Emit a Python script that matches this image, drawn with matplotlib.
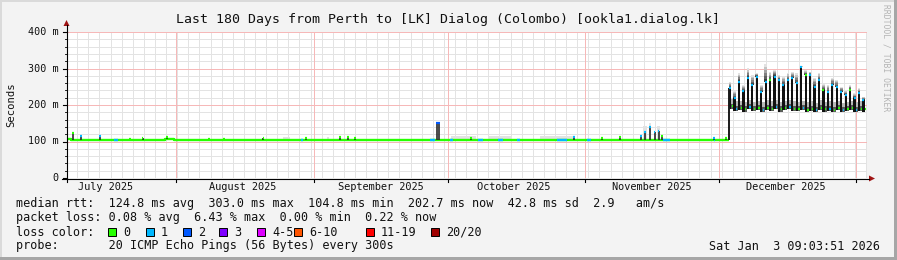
import matplotlib
matplotlib.use('Agg')
import matplotlib.pyplot as plt
from matplotlib.lines import Line2D
from matplotlib.patches import Rectangle, Polygon
from datetime import datetime, timedelta

# ---------------- data ----------------
title = "Last 180 Days from Perth to [LK] Dialog (Colombo) [ookla1.dialog.lk]"
end_time = datetime(2026, 1, 3, 9, 3, 51)
span_days = 180
y_ticks = [0, 100, 200, 300, 400]
y_tick_labels = ["0", "100 m", "200 m", "300 m", "400 m"]
month_labels = ["July 2025", "August 2025", "September 2025", "October 2025",
                "November 2025", "December 2025"]

# flat period: daily median rtt (ms), days 0..149
flat_vals = [106, 105, 105, 105, 105, 105, 105, 105, 105, 105,
             105, 105, 105, 105, 105, 105, 105, 105, 105, 105,
             105, 105, 106, 106, 105, 105, 105, 105, 105, 105,
             105, 105, 105, 105, 105, 105, 105, 105, 105, 105,
             105, 105, 105, 105, 105, 105, 105, 105, 105, 105,
             105, 105, 105, 105, 105, 105, 105, 105, 105, 105,
             105, 105, 105, 105, 105, 105, 105, 105, 105, 105,
             105, 105, 105, 105, 105, 105, 105, 105, 105, 105,
             105, 105, 105, 105, 105, 105, 105, 105, 105, 105,
             105, 105, 105, 105, 105, 105, 105, 105, 105, 105,
             105, 105, 105, 105, 105, 105, 105, 105, 105, 105,
             105, 105, 105, 105, 105, 105, 105, 105, 105, 105,
             105, 105, 105, 105, 105, 105, 105, 105, 105, 105,
             105, 105, 105, 105, 105, 105, 105, 105, 105, 105,
             105, 105, 105, 105, 105, 105, 105, 105, 105, 105]
# spans with 1 lost ping (start day, end day)
loss1_spans = [(10.6, 11.5), (52.6, 53.1), (81.7, 82.8), (86.2, 86.9),
               (92.5, 93.6), (97.0, 98.1), (101.3, 101.9), (110.3, 112.5),
               (117.0, 118.0), (134.1, 135.7), (145.5, 145.9)]
# short spikes: day, top value (ms), cap loss class
spike_days = [1.3, 3.2, 7.4, 14.2, 17.0, 22.5, 32.0, 35.3, 44.2, 53.8, 61.5,
              63.2, 64.8, 83.3, 83.7, 90.9, 114.1, 120.4, 124.4, 129.2, 130.0,
              131.2, 132.2, 133.1, 133.9, 145.6, 148.3]
spike_tops = [122, 115, 116, 108, 109, 111, 108, 108, 109, 110, 111,
              112, 110, 150, 150, 110, 112, 110, 113, 116, 127,
              140, 127, 130, 115, 110, 110]
spike_loss = [0, 1, 1, 0, 0, 0, 0, 0, 0, 0, 0,
              0, 0, 2, 2, 0, 1, 0, 0, 1, 1,
              1, 1, 1, 0, 1, 0]
# light smoke patches: start day, end day, top (ms)
smoke_start = [48.6, 58.5, 86.5, 95.0, 106.4, 129.6, 131.0, 132.7]
smoke_end = [50.2, 59.0, 92.0, 100.0, 114.0, 130.4, 131.5, 133.5]
smoke_top = [112, 112, 116, 115, 114, 142, 150, 143]

# December period: one swing per day
dec_start_day = 149.2
dec_peak = [246, 219, 264, 237, 274, 255, 278, 236, 264, 268, 278, 268, 255, 268,
            274, 259, 303, 282, 282, 250, 268, 241, 236, 255, 250, 236, 227, 241,
            219, 233, 214]
dec_smoke = [262, 240, 287, 255, 300, 282, 287, 255, 312, 291, 296, 282, 278, 287,
             291, 287, 306, 296, 291, 274, 287, 259, 255, 274, 268, 250, 241, 255,
             233, 246, 222]
dec_low = [196, 190, 192, 188, 194, 189, 192, 187, 193, 190, 195, 188, 191, 194,
           190, 189, 192, 187, 190, 186, 193, 188, 190, 187, 192, 186, 189, 191,
           187, 190, 188]
dec_peak_loss = [1, 1, 1, 1, 1, 1, 1, 1, 1, 0, 1, 1, 1, 1, 1, 1, 1, 0, 1, 1, 1,
                 0, 1, 1, 1, 1, 1, 0, 1, 1, 1]

# legend
median_stats = ["124.8", "303.0", "104.8", "202.7", "42.8", "2.9"]
loss_stats = ["0.08", "6.43", "0.00", "0.22"]
loss_labels = ["0", "1", "2", "3", "4-5", "6-10", "11-19", "20/20"]
loss_colors = ["#26ff00", "#00b8ff", "#0059ff", "#7e00ff", "#dd00ff",
               "#ff5500", "#ff0000", "#a00000"]
probe_text = "20 ICMP Echo Pings (56 Bytes) every 300s"
stamp_text = "Sat Jan  3 09:03:51 2026"

# ---------------- layout ----------------
W, H = 897, 260
PL, PR, PT, PB = 67, 867, 32, 178
MONO = "DejaVu Sans Mono"

fig = plt.figure(figsize=(W / 100, H / 100), dpi=100, facecolor="#F3F3F3")


def fx(x):
    return x / W


def fy(y):
    return 1 - y / H


ax = fig.add_axes([fx(PL), fy(PB), (PR - PL) / W, (PB - PT) / H])
ax.set_facecolor("white")
ax.set_xlim(0, span_days)
ax.set_ylim(0, 400)
for s in ax.spines.values():
    s.set_visible(False)
ax.set_xticks([])
ax.set_yticks([])

start_time = end_time - timedelta(days=span_days)


def to_day(dt):
    return (dt - start_time).total_seconds() / 86400.0


month_starts = [to_day(datetime(2025, m, 1)) for m in (8, 9, 10, 11, 12)] + \
    [to_day(datetime(2026, 1, 1))]
month_mids = [to_day(datetime(2025, m, 16)) for m in (7, 8, 9, 10, 11, 12)]

grid_lw = 0.72
minor_col = "#e3e3e3"
major_col = "#f6b8b8"
# minor grid
minor_x = []
d = 2.3
while d < span_days:
    minor_x.append(d)
    d += 2.5
for d in minor_x:
    ax.axvline(d, color=minor_col, lw=grid_lw, zorder=0)
for v in range(20, 400, 20):
    if v % 100:
        ax.axhline(v, color=minor_col, lw=grid_lw, zorder=0)
# major grid
for d in month_starts:
    ax.axvline(d, color=major_col, lw=grid_lw, zorder=0.5)
for v in y_ticks[1:]:
    ax.axhline(v, color=major_col, lw=grid_lw, zorder=0.5)

# ---------------- data drawing ----------------
# light smoke in flat period
for s, e, t in zip(smoke_start, smoke_end, smoke_top):
    ax.fill_between([s, e], 104, t, color="#e2e2e2", lw=0, zorder=1)

# flat median line
flat_days = list(range(len(flat_vals)))
ax.plot(flat_days + [dec_start_day - 0.2], flat_vals + [flat_vals[-1]],
        color=loss_colors[0], lw=1.7, drawstyle="steps-post",
        solid_capstyle="butt", zorder=3)
for s, e in loss1_spans:
    v = flat_vals[int(s)]
    ax.plot([s, e], [v, v], color=loss_colors[1], lw=1.7,
            solid_capstyle="butt", zorder=3.5)

# spikes
for dd, top, lc in zip(spike_days, spike_tops, spike_loss):
    base = flat_vals[int(dd)]
    ax.vlines(dd, base, top, color="#2a2a2a", lw=1.2, zorder=4)
    ax.plot([dd - 0.2, dd + 0.2], [top, top], color=loss_colors[lc], lw=1.6,
            solid_capstyle="butt", zorder=4.5)

# jump to December level
ax.vlines(dec_start_day - 0.2, flat_vals[-1], dec_peak[0], color="#1a1a1a",
          lw=1.4, zorder=4)

# December smoke and median
n = len(dec_peak)
dec_x = [dec_start_day + i for i in range(n)]
grad_cols = ["#3c3c3c", "#5e5e5e", "#808080", "#a2a2a2", "#c4c4c4", "#e2e2e2"]
for x, p, st in zip(dec_x, dec_peak, dec_smoke):
    step = (st - p) / len(grad_cols)
    for k, c in enumerate(grad_cols):
        ax.bar(x, step, bottom=p + k * step, width=0.6, color=c, lw=0,
               zorder=2)
# smoke around the low part between swings
for i in range(n - 1):
    ax.bar(dec_x[i] + 0.5, 12, bottom=dec_low[i] + 8, width=0.6,
           color="#b8b8b8", lw=0, zorder=1.5)
    ax.bar(dec_x[i] + 0.5, 14, bottom=dec_low[i] - 6, width=0.6,
           color="#5a5a5a", lw=0, zorder=1.6)
ax.bar(dec_x, [p - l + 6 for p, l in zip(dec_peak, dec_low)],
       bottom=[l - 6 for l in dec_low], width=0.5, color="#111111", lw=0,
       zorder=3)
for i, (x, p, l, lc) in enumerate(zip(dec_x, dec_peak, dec_low, dec_peak_loss)):
    ax.plot([x - 0.22, x + 0.22], [p, p], color=loss_colors[lc], lw=1.6,
            solid_capstyle="butt", zorder=4)
    ax.plot([x + 0.35, x + 0.65], [l, l], color=loss_colors[i % 3 == 1], lw=1.6,
            solid_capstyle="butt", zorder=4)

# ---------------- axes lines / arrows / ticks ----------------
axis_col = "black"
arrow_col = "#a01414"
fig.add_artist(Line2D([fx(62), fx(869)], [fy(178.5), fy(178.5)],
                      color=axis_col, lw=0.8))
fig.add_artist(Line2D([fx(66.5), fx(66.5)], [fy(182), fy(25)],
                      color=axis_col, lw=0.8))
fig.add_artist(Polygon([[fx(63.5), fy(26)], [fx(69.5), fy(26)], [fx(66.5), fy(20)]],
                       closed=True, color=arrow_col, lw=0))
fig.add_artist(Polygon([[fx(869), fy(175.5)], [fx(869), fy(181.5)], [fx(875), fy(178.5)]],
                       closed=True, color=arrow_col, lw=0))

xpx = lambda d: PL + d / span_days * (PR - PL)
ypx = lambda v: PB - v / 400 * (PB - PT)
for d in month_starts:
    fig.add_artist(Line2D([fx(xpx(d)), fx(xpx(d))], [fy(178.5), fy(181.5)],
                          color=axis_col, lw=0.8))
for v in y_ticks:
    fig.add_artist(Line2D([fx(62.5), fx(66.5)], [fy(ypx(v)), fy(ypx(v))],
                          color=axis_col, lw=0.8))
for v in range(20, 400, 20):
    if v % 100:
        fig.add_artist(Line2D([fx(64.5), fx(66.5)], [fy(ypx(v)), fy(ypx(v))],
                              color=axis_col, lw=0.6))

# ---------------- texts ----------------
fig.text(fx(447.5), fy(19), title, family=MONO, fontsize=9.5, ha="center",
         va="center", color="#111111")
for v, lab in zip(y_ticks, y_tick_labels):
    fig.text(fx(58.5), fy(ypx(v)), lab, family=MONO, fontsize=7.3, ha="right",
             va="center", color="#111111")
for d, lab in zip(month_mids, month_labels):
    fig.text(fx(xpx(d)), fy(187), lab, family=MONO, fontsize=7.4, ha="center",
             va="center", color="#111111")
fig.text(fx(11), fy(105), "Seconds", family=MONO, fontsize=7.6, rotation=90,
         ha="center", va="center", color="#111111")
fig.text(fx(886), fy(4), "RRDTOOL / TOBI OETIKER", family=MONO, fontsize=5.8,
         rotation=270, ha="center", va="top", color="#b4b4b4")

LFS = 8.5
line1 = ("median rtt:  {} ms avg  {} ms max  {} ms min  {} ms now  {} ms sd  {}   am/s"
         .format(*median_stats))
line2 = "packet loss: {} % avg  {} % max  {} % min  {} % now".format(*loss_stats)
fig.text(fx(16), fy(204), line1, family=MONO, fontsize=LFS, va="center",
         color="#111111")
fig.text(fx(16), fy(218), line2, family=MONO, fontsize=LFS, va="center",
         color="#111111")
fig.text(fx(16), fy(232), "loss color:", family=MONO, fontsize=LFS,
         va="center", color="#111111")
box_x = [108, 146, 183, 219, 257, 294, 366, 431]
for bx, lab, col in zip(box_x, loss_labels, loss_colors):
    fig.add_artist(Rectangle((fx(bx), fy(236)), 8 / W, 8 / H, facecolor=col,
                             edgecolor="black", lw=0.7))
    fig.text(fx(bx + 15), fy(232), lab, family=MONO, fontsize=LFS, va="center",
             color="#111111")
fig.text(fx(16), fy(246), "probe:       " + probe_text, family=MONO,
         fontsize=LFS, va="center", color="#111111")
fig.text(fx(880), fy(246), stamp_text, family=MONO, fontsize=LFS, ha="right",
         va="center", color="#111111")

# frame shading
fig.add_artist(Rectangle((0, 0), 1, 3 / H, facecolor="#a6a6a6", lw=0))
fig.add_artist(Rectangle((1 - 3 / W, 0), 3 / W, 1, facecolor="#a6a6a6", lw=0))
fig.add_artist(Rectangle((0, 1 - 2 / H), 1 - 3 / W, 2 / H, facecolor="#dadada", lw=0))
fig.add_artist(Rectangle((0, 3 / H), 2 / W, 1 - 3 / H, facecolor="#dadada", lw=0))

fig.savefig("out.png", dpi=100, facecolor=fig.get_facecolor())
